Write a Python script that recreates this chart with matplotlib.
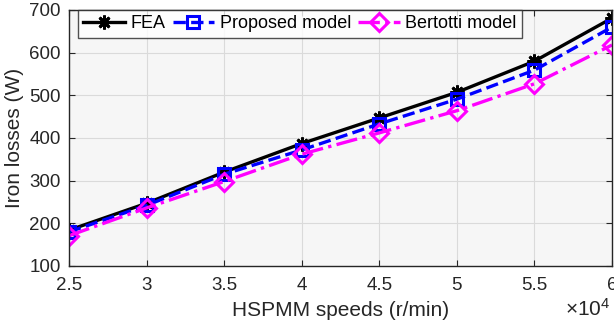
import numpy as np
import matplotlib.pyplot as plt

plt.rcParams['font.family'] = ['Liberation Sans', 'DejaVu Sans']
plt.rcParams['mathtext.fontset'] = 'custom'
plt.rcParams['mathtext.rm'] = 'Liberation Sans'

speeds = [2.5, 3, 3.5, 4, 4.5, 5, 5.5, 6]
fea = [184, 247, 320, 387, 447, 507, 580, 681]
proposed = [180, 242, 315, 372, 433, 491, 559, 660]
bertotti = [171, 236, 298, 362, 412, 464, 527, 618]

fig = plt.figure(figsize=(6.14, 3.23), dpi=100)
ax = fig.add_axes([69/614, 1 - 266/323, 543/614, 256/323])
ax.set_facecolor('#f6f6f6')

ax.plot(speeds, fea, color='black', linestyle='-', linewidth=2.4,
        marker=(8, 2, 0), markersize=10, markeredgewidth=2, label='FEA')
ax.plot(speeds, proposed, color='#0000ff', linestyle='--', linewidth=2.4,
        marker='s', markersize=8, markerfacecolor='none', markeredgewidth=2.2,
        label='Proposed model')
ax.plot(speeds, bertotti, color='#ff00ff', linestyle='-.', linewidth=2.4,
        marker='D', markersize=9, markerfacecolor='none', markeredgewidth=2.2,
        label='Bertotti model')

ax.set_xlim(2.5, 6)
ax.set_ylim(100, 700)
ax.set_xticks(speeds)
ax.set_xticklabels(['2.5', '3', '3.5', '4', '4.5', '5', '5.5', '6'])
ax.set_yticks(np.arange(100, 701, 100))
ax.grid(True, color='#dadada', linewidth=0.8)
ax.set_axisbelow(True)
ax.tick_params(direction='in', top=True, right=True, labelsize=13.5,
               colors='#262626', length=4)
ax.tick_params(axis='x', pad=8)
ax.tick_params(axis='y', pad=6)
for s in ax.spines.values():
    s.set_color('#262626')
    s.set_linewidth(1)
ax.set_xlabel('HSPMM speeds (r/min)', fontsize=15, color='#262626', labelpad=5)
ax.set_ylabel('Iron losses (W)', fontsize=15, color='#262626', labelpad=4)
fig.text(610/614, 1 - 320/323, r'$\mathrm{\times10^{4}}$', ha='right',
         va='bottom', fontsize=15, color='#262626')

leg = ax.legend(loc='upper left', ncol=3, fontsize=13, frameon=True,
                fancybox=False, edgecolor='#262626', handlelength=2.3,
                columnspacing=0.4, handletextpad=0.3,
                borderpad=0.3, borderaxespad=0.0,
                bbox_to_anchor=(9/543, 1.0))
leg.get_frame().set_linewidth(1)
leg.get_frame().set_facecolor('white')

fig.savefig('out.png', dpi=100)
